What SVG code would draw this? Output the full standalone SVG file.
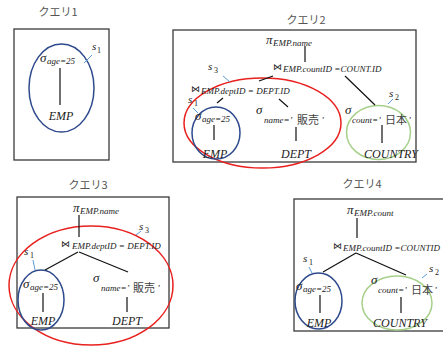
<svg xmlns="http://www.w3.org/2000/svg" width="443" height="350" viewBox="0 0 443 350">
<style>
.box{fill:none;stroke:#3a3a3a;stroke-width:1.3}
.ttl{font-family:"Noto Sans CJK JP","Noto Sans",sans-serif;font-size:11px;fill:#555}
.op{font-family:"Liberation Serif",serif;font-style:italic;font-size:13px;fill:#222}
.bt{font-family:"DejaVu Sans",sans-serif;font-size:9px;fill:#222}
.sub{font-family:"Liberation Serif",serif;font-style:italic;font-size:9px;fill:#222}
.rel{font-family:"Liberation Serif",serif;font-style:italic;font-size:12px;fill:#222}
.jp{font-family:"Noto Sans CJK JP",sans-serif;font-size:11px;fill:#444}
.ln{stroke:#111;stroke-width:1.2;fill:none}
.tk{stroke:#5b9bd5;stroke-width:1;fill:none}
.blue{fill:none;stroke:#2e4a8c;stroke-width:1.5}
.red{fill:none;stroke:#e8201e;stroke-width:1.5}
.green{fill:none;stroke:#a6d08a;stroke-width:1.5}
.s{font-family:"Liberation Serif",serif;font-style:italic;font-size:11px;fill:#222}
.si{font-family:"Liberation Serif",serif;font-size:8px;fill:#222}
</style>

<!-- Query 1 -->
<g id="query1">
<text class="ttl" x="58" y="16" text-anchor="middle">クエリ1</text>
<rect class="box" x="14" y="29" width="95" height="131"/>
<ellipse class="blue" cx="61.5" cy="88" rx="32.5" ry="44"/>
<text class="op" x="40" y="62">σ</text><text class="sub" x="47" y="64">age=25</text>
<text class="rel" x="61" y="120" text-anchor="middle">EMP</text>
<text class="s" x="92" y="50">s</text><text class="si" x="97" y="53">1</text>
</g>

<!-- Query 2 -->
<g id="query2">
<text class="ttl" x="306" y="24" text-anchor="middle">クエリ2</text>
<rect class="box" x="173" y="30" width="243" height="132"/>
<ellipse class="red" cx="262.5" cy="123" rx="78.5" ry="45"/>
<ellipse class="blue" cx="216" cy="133" rx="24" ry="26"/>
<ellipse class="green" cx="378.5" cy="132.5" rx="32" ry="27"/>
<text class="op" x="266" y="44">π</text><text class="sub" x="273" y="46">EMP.name</text>
<text class="bt" x="273" y="70">⋈</text><text class="sub" x="283" y="72">EMP.countID =COUNT.ID</text>
<text class="bt" x="191" y="92">⋈</text><text class="sub" x="201" y="94">EMP.deptID = DEPT.ID</text>
<text class="op" x="195" y="120">σ</text><text class="sub" x="202" y="122">age=25</text>
<text class="op" x="256" y="114">σ</text><text class="sub" x="264" y="123">name=’</text><text class="jp" x="297" y="124">販売</text><text class="sub" x="321" y="123">’</text>
<text class="op" x="345" y="114">σ</text><text class="sub" x="352" y="123">count=’</text><text class="jp" x="385" y="124">日本</text><text class="sub" x="408" y="123">’</text>
<text class="rel" x="215" y="158" text-anchor="middle">EMP</text>
<text class="rel" x="296" y="158" text-anchor="middle">DEPT</text>
<text class="rel" x="391" y="158" text-anchor="middle">COUNTRY</text>
<text class="s" x="208" y="70">s</text><text class="si" x="214" y="73">3</text>
<text class="s" x="389" y="97">s</text><text class="si" x="395" y="100">2</text>
<text class="s" x="188" y="103">s</text><text class="si" x="194" y="106">1</text>
</g>

<!-- Query 3 -->
<g id="query3">
<text class="ttl" x="88" y="189" text-anchor="middle">クエリ3</text>
<rect class="box" x="17" y="197" width="152" height="131"/>
<ellipse class="red" cx="91" cy="285.5" rx="82" ry="59.5"/>
<ellipse class="blue" cx="41" cy="300" rx="23" ry="30"/>
<text class="op" x="73" y="212">π</text><text class="sub" x="80" y="214">EMP.name</text>
<text class="bt" x="61" y="247">⋈</text><text class="sub" x="72" y="249">EMP.deptID = DEPT.ID</text>
<text class="op" x="23" y="288">σ</text><text class="sub" x="30" y="290">age=25</text>
<text class="op" x="93" y="282">σ</text><text class="sub" x="101" y="291">name=’</text><text class="jp" x="133" y="292">販売</text><text class="sub" x="157" y="291">’</text>
<text class="rel" x="43" y="325" text-anchor="middle">EMP</text>
<text class="rel" x="127" y="325" text-anchor="middle">DEPT</text>
<text class="s" x="139" y="230">s</text><text class="si" x="145" y="233">3</text>
<text class="s" x="24" y="255">s</text><text class="si" x="30" y="258">1</text>
</g>

<!-- Query 4 -->
<g id="query4">
<text class="ttl" x="362" y="188" text-anchor="middle">クエリ4</text>
<rect class="box" x="294" y="199" width="150" height="132"/>
<ellipse class="blue" cx="318.5" cy="301" rx="23.5" ry="28"/>
<ellipse class="green" cx="397" cy="303" rx="35" ry="27"/>
<text class="op" x="347" y="214">π</text><text class="sub" x="354" y="216">EMP.count</text>
<text class="bt" x="333" y="249">⋈</text><text class="sub" x="343" y="251">EMP.countID =COUNTID</text>
<text class="op" x="296" y="290">σ</text><text class="sub" x="303" y="292">age=25</text>
<text class="op" x="371" y="284">σ</text><text class="sub" x="378" y="293">count=’</text><text class="jp" x="411" y="294">日本</text><text class="sub" x="434" y="293">’</text>
<text class="rel" x="319" y="327" text-anchor="middle">EMP</text>
<text class="rel" x="400" y="327" text-anchor="middle">COUNTRY</text>
<text class="s" x="303" y="262">s</text><text class="si" x="309" y="265">1</text>
<text class="s" x="429" y="272">s</text><text class="si" x="435" y="275">2</text>
</g>

<g id="connectors">
<!-- q1 -->
<line class="ln" x1="60" y1="68" x2="60" y2="105"/>
<line class="tk" x1="84" y1="63" x2="92" y2="55"/>
<!-- q2 -->
<line class="ln" x1="305" y1="46" x2="305" y2="62"/>
<line class="ln" x1="273" y1="76" x2="259" y2="81"/>
<line class="ln" x1="345" y1="76" x2="375" y2="105"/>
<line class="ln" x1="223" y1="98" x2="217" y2="103"/>
<line class="ln" x1="279" y1="99" x2="288" y2="107"/>
<line class="ln" x1="214" y1="125" x2="214" y2="140"/>
<line class="ln" x1="296" y1="127" x2="296" y2="141"/>
<line class="ln" x1="382" y1="125" x2="382" y2="143"/>
<line class="tk" x1="223" y1="76" x2="230" y2="82"/>
<line class="tk" x1="388" y1="104" x2="393" y2="99"/>
<line class="tk" x1="193" y1="108" x2="198" y2="113"/>
<!-- q3 -->
<line class="ln" x1="79" y1="215" x2="79" y2="237"/>
<line class="ln" x1="78" y1="252" x2="45" y2="270"/>
<line class="ln" x1="79" y1="252" x2="128" y2="272"/>
<line class="ln" x1="43" y1="293" x2="43" y2="312"/>
<line class="ln" x1="127" y1="297" x2="127" y2="312"/>
<line class="tk" x1="136" y1="235" x2="141" y2="231"/>
<line class="tk" x1="33" y1="260" x2="35" y2="270"/>
<!-- q4 -->
<line class="ln" x1="357" y1="218" x2="357" y2="238"/>
<line class="ln" x1="356" y1="253" x2="323" y2="272"/>
<line class="ln" x1="356" y1="253" x2="406" y2="275"/>
<line class="ln" x1="320" y1="295" x2="320" y2="313"/>
<line class="ln" x1="401" y1="297" x2="401" y2="313"/>
<line class="tk" x1="309" y1="267" x2="312" y2="273"/>
<line class="tk" x1="422" y1="278" x2="427" y2="274"/>
</g>
</svg>
